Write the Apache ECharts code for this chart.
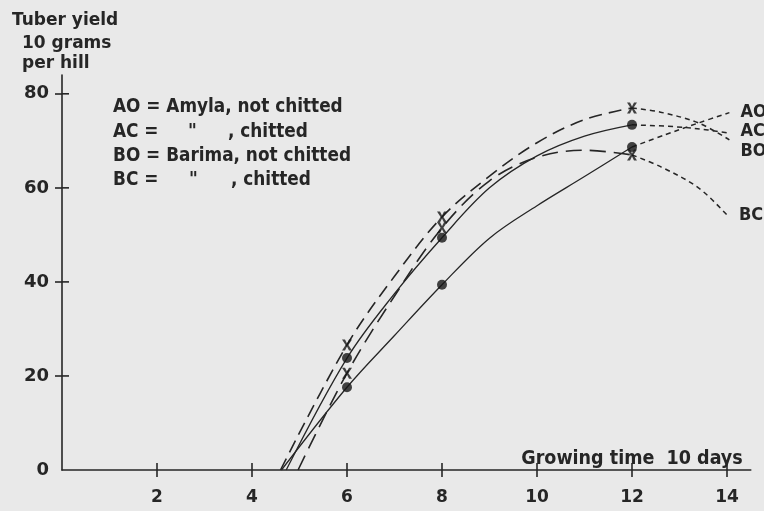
<!DOCTYPE html>
<html>
<head>
<meta charset="utf-8">
<script src="https://cdn.jsdelivr.net/npm/echarts@6/dist/echarts.min.js"></script>
<style>
html,body{margin:0;padding:0;background:#e9e9e9;}
#chart{width:764px;height:511px;}
</style>
</head>
<body>
<div id="chart"></div>
<script>
// ---- data ----
const xTicks = [2, 4, 6, 8, 10, 12, 14];
const yTicks = [0, 20, 40, 60, 80];
const yTickLabels = ['0', '20', '40', '60', '80'];
const seriesNames = ['AO', 'AC', 'BO', 'BC'];

// fitted curves (growing time, yield)
const aoCurve = [[4.62, 0], [6, 17.6], [7, 28.6], [8, 39.4], [9, 49.3], [10, 56.2], [11, 62.4], [12, 68.7]];
const acCurve = [[4.72, 0], [6, 23.8], [7, 37.5], [8, 49.4], [9, 60], [10, 66.8], [11, 71], [12, 73.4]];
const boCurve = [[4.6, 0], [6, 26.6], [7, 41.2], [8, 53.8], [9, 62.5], [10, 69.6], [11, 74.5], [12, 77]];
const bcCurve = [[4.97, 0], [6, 20.6], [7, 37], [8, 51.5], [9, 61.5], [10, 66.5], [11, 68], [12, 67]];

// short-dashed continuations
const aoExt = [[12, 68.7], [12.7, 71.3], [13.4, 73.8], [14.05, 76]];
const acExt = [[12, 73.4], [12.9, 73], [13.6, 72.3], [14.05, 71.6]];
const boExt = [[12, 77], [12.6, 76.1], [13.4, 73.8], [14.05, 70.2]];
const bcExt = [[12, 67], [12.6, 64.5], [13.4, 60], [14.02, 54]];

// measured points
const aoPoints = [[6, 17.6], [8, 39.4], [12, 68.7]];
const acPoints = [[6, 23.8], [8, 49.4], [12, 73.4]];
const boPoints = [[6, 26.6], [8, 53.8], [12, 77]];
const bcPoints = [[6, 20.6], [8, 51.5], [12, 67]];

const yTitleLines = ['Tuber yield', '10 grams', 'per hill'];
const xTitle = 'Growing time  10 days';
const legendRows = [
  ['AO = Amyla, not chitted'],
  ['AC =', '"', ', chitted'],
  ['BO = Barima, not chitted'],
  ['BC =', '"', ', chitted']
];

// ---- styles ----
const INK = '#262626';
const FONT = '"DejaVu Sans Condensed", "DejaVu Sans", sans-serif';
const TFONT = '"DejaVu Sans", sans-serif';

const curves = [aoCurve, acCurve, boCurve, bcCurve];
const exts = [aoExt, acExt, boExt, bcExt];
const points = [aoPoints, acPoints, boPoints, bcPoints];
const curveDash = ['solid', 'solid', [13, 7], [16, 8]];
const curveWidth = [1.3, 1.3, 1.6, 1.6];
const labelDy = [0, -2, 11, -1];
const xSymbol = 'path://M0,0 L3,0 L5,3.6 L7,0 L10,0 L6.4,5 L10,10 L7,10 L5,6.4 L3,10 L0,10 L3.6,5 Z';
const markerSymbol = ['circle', 'circle', xSymbol, xSymbol];
const markerSize = [10, 10, [10, 11], [10, 11]];

const series = [];
seriesNames.forEach((name, i) => {
  series.push({
    name: name, type: 'line', data: curves[i], smooth: 0.35,
    showSymbol: false, symbol: 'none',
    lineStyle: {color: INK, width: curveWidth[i], type: curveDash[i]}, z: 2
  });
  series.push({
    name: name, type: 'line', data: exts[i], smooth: 0.35,
    showSymbol: false, symbol: 'none',
    lineStyle: {color: INK, width: 1.5, type: [5, 4]}, z: 2,
    endLabel: {
      show: true, formatter: name, distance: 11, offset: [0, labelDy[i]],
      color: INK, fontFamily: FONT, fontWeight: 'bold', fontSize: 18
    }
  });
  series.push({
    name: name, type: 'scatter', data: points[i], symbol: markerSymbol[i],
    symbolSize: markerSize[i], itemStyle: {color: '#151515'}, z: 5
  });
});

// inner halves of the axis ticks (ticks cross the axis lines), placed via the axis scales
const TICK = 7;
series.push({
  type: 'custom', name: 'xTickInner', silent: true, clip: false, z: 3,
  data: xTicks.map(v => [v, 0]),
  renderItem: (params, api) => {
    const p = api.coord([api.value(0), 0]);
    return {type: 'line', shape: {x1: p[0], y1: p[1], x2: p[0], y2: p[1] - TICK},
      style: {stroke: INK, lineWidth: 1.6}};
  }
});
series.push({
  type: 'custom', name: 'yTickInner', silent: true, clip: false, z: 3,
  data: yTicks.slice(1).map(v => [0, v]),
  renderItem: (params, api) => {
    const p = api.coord([0, api.value(1)]);
    return {type: 'line', shape: {x1: p[0], y1: p[1], x2: p[0] + TICK, y2: p[1]},
      style: {stroke: INK, lineWidth: 1.6}};
  }
});

const graphics = [];
const titleX = [12, 22, 22];
const titleY = [21, 44, 64];
yTitleLines.forEach((t, i) => {
  graphics.push({type: 'text', x: titleX[i], y: titleY[i],
    style: {text: t, fill: INK, font: 'bold 17px ' + TFONT, verticalAlign: 'middle'}});
});
const rowY = [107, 132, 156, 180];
const pieceX = [[113], [113, 188, 228], [113], [113, 189, 231]];
legendRows.forEach((row, r) => {
  row.forEach((t, k) => {
    graphics.push({type: 'text', x: pieceX[r][k], y: rowY[r],
      style: {text: t, fill: INK, font: 'bold 18.8px ' + FONT, verticalAlign: 'middle'}});
  });
});

const axisLineStyle = {color: INK, width: 1.6};
const option = {
  backgroundColor: '#e9e9e9',
  animation: false,
  grid: {left: 62, right: 13.25, top: 75, bottom: 41},
  xAxis: {
    type: 'value', min: 0, max: 14.5, interval: 2,
    axisLine: {lineStyle: axisLineStyle},
    axisTick: {show: true, length: TICK, customValues: xTicks, lineStyle: axisLineStyle},
    axisLabel: {customValues: xTicks, margin: 19, color: INK, fontFamily: TFONT, fontWeight: 'bold', fontSize: 17},
    splitLine: {show: false},
    name: xTitle, nameLocation: 'end', nameGap: -8,
    nameTextStyle: {align: 'right', verticalAlign: 'bottom', padding: [0, 0, 1, 0],
      color: INK, fontFamily: FONT, fontWeight: 'bold', fontSize: 19.5}
  },
  yAxis: {
    type: 'value', min: 0, max: 84, interval: 20,
    axisLine: {show: true, lineStyle: axisLineStyle},
    axisTick: {show: true, length: TICK, customValues: yTicks.slice(1), lineStyle: axisLineStyle},
    axisLabel: {customValues: yTicks, margin: 13, color: INK, fontFamily: TFONT, fontWeight: 'bold', fontSize: 18,
      formatter: v => yTickLabels[yTicks.indexOf(v)]},
    splitLine: {show: false}
  },
  series: series,
  graphic: graphics
};

const chart = echarts.init(document.getElementById('chart'), null, {renderer: 'canvas'});
chart.setOption(option);
</script>
</body>
</html>
